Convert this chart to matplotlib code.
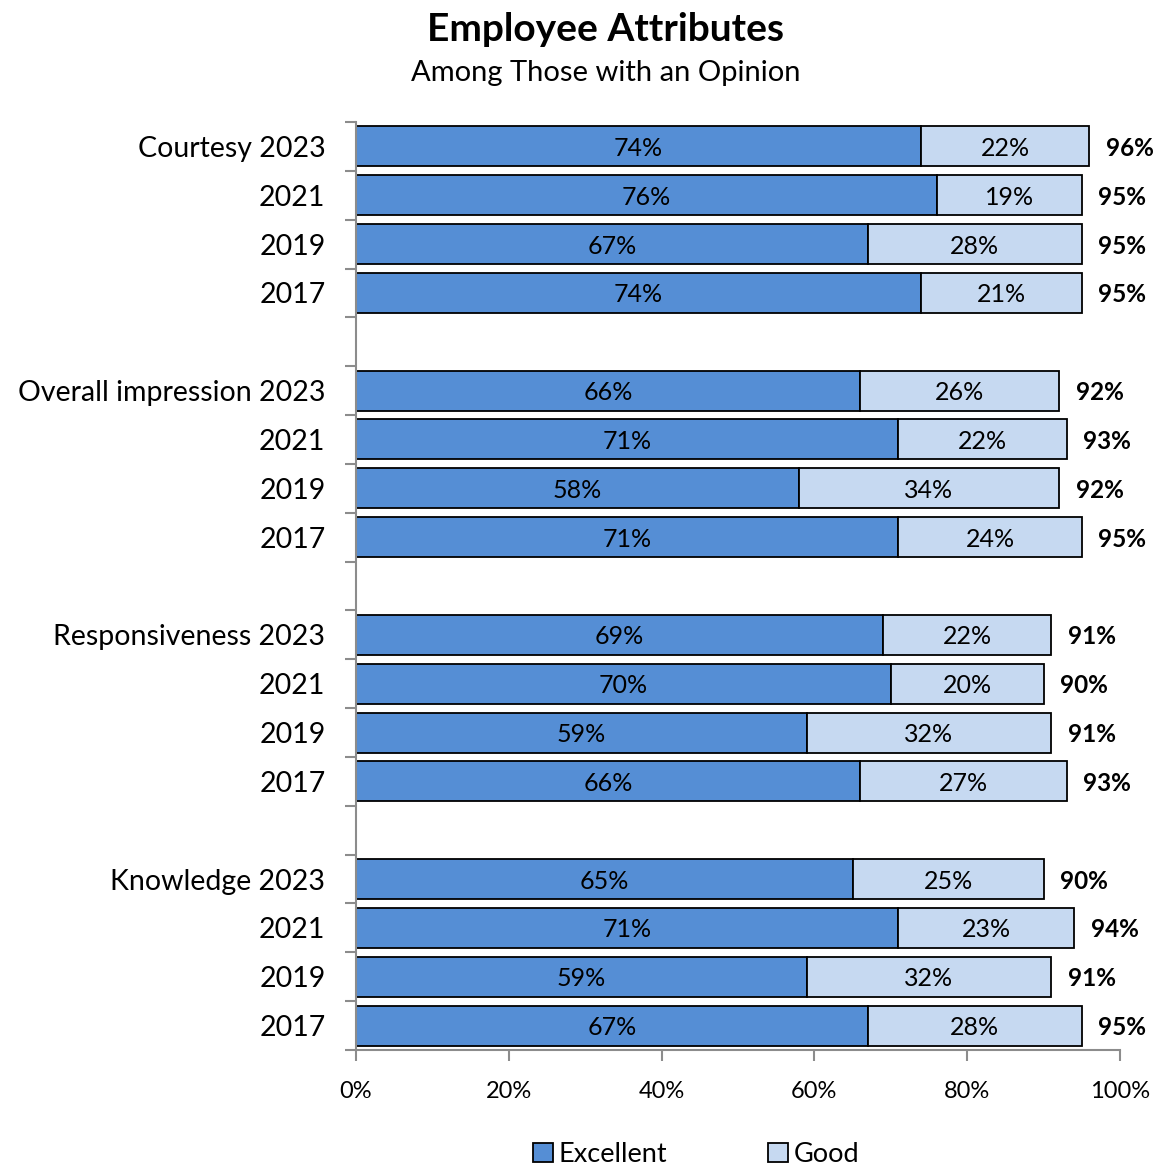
import numpy as np
import matplotlib.pyplot as plt
from matplotlib.ticker import FixedLocator

plt.rcParams['font.family'] = ['Lato', 'DejaVu Sans']

# Survey results, top to bottom within each attribute
attributes = ['Courtesy', 'Overall impression', 'Responsiveness', 'Knowledge']
years = ['2023', '2021', '2019', '2017']
excellent = [
    [74, 76, 67, 74],
    [66, 71, 58, 71],
    [69, 70, 59, 66],
    [65, 71, 59, 67],
]
good = [
    [22, 19, 28, 21],
    [26, 22, 34, 24],
    [22, 20, 32, 27],
    [25, 23, 32, 28],
]
totals = [
    [96, 95, 95, 95],
    [92, 93, 92, 95],
    [91, 90, 91, 93],
    [90, 94, 91, 95],
]

EXC_COLOR = '#558ED5'
GOOD_COLOR = '#C6D9F1'
AXIS_GRAY = '#8C8C8C'

fig = plt.figure(figsize=(11.58, 11.65), dpi=100)
ax = fig.add_axes([0.3074, 0.0987, 0.6598, 0.7966])

rows, labels = [], []
for g, name in enumerate(attributes):
    for i, yr in enumerate(years):
        rows.append(g * 5 + i)
        labels.append(f'{name} {yr}' if i == 0 else yr)

exc = np.array(excellent).ravel()
gd = np.array(good).ravel()
tot = np.array(totals).ravel()
rows = np.array(rows)

bh = 0.82
ax.barh(rows, exc, height=bh, color=EXC_COLOR, edgecolor='black', linewidth=1.3, label='Excellent')
ax.barh(rows, gd, left=exc, height=bh, color=GOOD_COLOR, edgecolor='black', linewidth=1.3, label='Good')

for r, e, g, t in zip(rows, exc, gd, tot):
    ax.text(e / 2, r + 0.04, f'{e}%', ha='center', va='center', fontsize=18)
    ax.text(e + g / 2, r + 0.04, f'{g}%', ha='center', va='center', fontsize=18)
    ax.annotate(f'{t}%', xy=(e + g, r + 0.04), xytext=(12, 0), textcoords='offset points',
                ha='left', va='center', fontsize=17.5, fontweight='bold')

ax.set_xlim(0, 100)
ax.set_ylim(18.5, -0.5)
ax.set_xticks(np.arange(0, 101, 20))
ax.set_xticklabels([f'{v}%' for v in range(0, 101, 20)], fontsize=17)

ax.set_yticks(rows)
ax.set_yticklabels(labels, fontsize=20.5)
ax.yaxis.set_minor_locator(FixedLocator(np.arange(-0.5, 19, 1)))
ax.tick_params(axis='y', which='major', length=0, pad=22)
ax.tick_params(axis='y', which='minor', length=8, width=1.5, color=AXIS_GRAY)
ax.tick_params(axis='x', length=8, width=1.5, color=AXIS_GRAY, pad=14)

for s in ['top', 'right']:
    ax.spines[s].set_visible(False)
for s in ['left', 'bottom']:
    ax.spines[s].set_color(AXIS_GRAY)
    ax.spines[s].set_linewidth(1.5)

fig.text(0.523, 0.975, 'Employee Attributes', ha='center', va='center', fontsize=28, fontweight='bold')
fig.text(0.523, 0.937, 'Among Those with an Opinion', ha='center', va='center', fontsize=21)

fig.legend(loc='center', bbox_to_anchor=(0.601, 0.009), ncol=2, frameon=False, fontsize=19.5,
           handlelength=0.75, handleheight=0.75, handletextpad=0.2, columnspacing=3.7)

fig.savefig('out.png', dpi=100)
